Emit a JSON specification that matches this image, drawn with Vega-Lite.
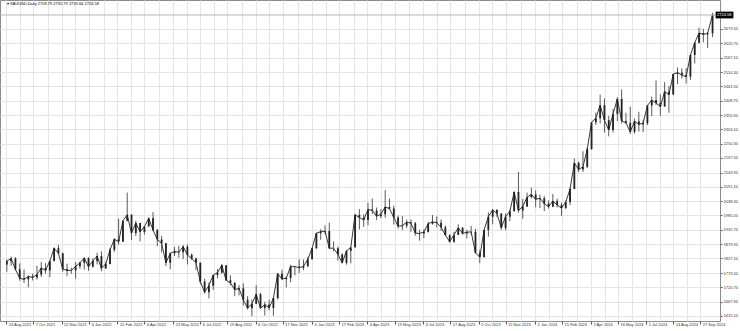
{
  "$schema": "https://vega.github.io/schema/vega-lite/v6.json",
  "width": 720,
  "height": 321,
  "autosize": {"type": "none"},
  "padding": {"left": 0, "top": 0, "right": 20, "bottom": 10},
  "background": "white",
  "config": {"view": {"stroke": "#8a8a8a", "strokeWidth": 1}, "font": "Liberation Sans"},
  "datasets": {
    "last": [{"p": 2724.58, "hi": 2737, "lo": 2712, "t": "2724.58", "head": "▾ XAUUSD,Daily  2709.79 2732.79 2719.64 2724.58"}],
    "candles": [
      {"d":"2021-08-25","o":1805,"h":1823,"l":1778,"c":1817},
      {"d":"2021-09-01","o":1817,"h":1834,"l":1800,"c":1827},
      {"d":"2021-09-08","o":1827,"h":1832,"l":1782,"c":1787},
      {"d":"2021-09-15","o":1787,"h":1809,"l":1745,"c":1754},
      {"d":"2021-09-22","o":1754,"h":1787,"l":1737,"c":1750},
      {"d":"2021-09-29","o":1750,"h":1764,"l":1721,"c":1761},
      {"d":"2021-10-06","o":1761,"h":1771,"l":1746,"c":1757},
      {"d":"2021-10-13","o":1757,"h":1800,"l":1749,"c":1768},
      {"d":"2021-10-20","o":1768,"h":1814,"l":1759,"c":1792},
      {"d":"2021-10-27","o":1792,"h":1810,"l":1771,"c":1783},
      {"d":"2021-11-03","o":1783,"h":1818,"l":1758,"c":1818},
      {"d":"2021-11-10","o":1818,"h":1868,"l":1816,"c":1865},
      {"d":"2021-11-17","o":1865,"h":1877,"l":1845,"c":1846},
      {"d":"2021-11-24","o":1846,"h":1849,"l":1778,"c":1788},
      {"d":"2021-12-01","o":1788,"h":1808,"l":1762,"c":1783},
      {"d":"2021-12-08","o":1783,"h":1793,"l":1771,"c":1783},
      {"d":"2021-12-15","o":1783,"h":1814,"l":1753,"c":1798},
      {"d":"2021-12-22","o":1798,"h":1815,"l":1789,"c":1811},
      {"d":"2021-12-29","o":1811,"h":1831,"l":1786,"c":1829},
      {"d":"2022-01-05","o":1829,"h":1831,"l":1782,"c":1797},
      {"d":"2022-01-12","o":1797,"h":1828,"l":1793,"c":1818},
      {"d":"2022-01-19","o":1818,"h":1848,"l":1805,"c":1836},
      {"d":"2022-01-26","o":1836,"h":1853,"l":1780,"c":1791},
      {"d":"2022-02-02","o":1791,"h":1815,"l":1788,"c":1807},
      {"d":"2022-02-09","o":1807,"h":1866,"l":1805,"c":1859},
      {"d":"2022-02-16","o":1859,"h":1902,"l":1851,"c":1898},
      {"d":"2022-02-23","o":1898,"h":1974,"l":1878,"c":1889},
      {"d":"2022-03-02","o":1889,"h":1966,"l":1889,"c":1966},
      {"d":"2022-03-09","o":1966,"h":2070,"l":1964,"c":1988},
      {"d":"2022-03-16","o":1988,"h":1990,"l":1895,"c":1921},
      {"d":"2022-03-23","o":1921,"h":1966,"l":1910,"c":1958},
      {"d":"2022-03-30","o":1958,"h":1958,"l":1890,"c":1925},
      {"d":"2022-04-06","o":1925,"h":1945,"l":1915,"c":1945},
      {"d":"2022-04-13","o":1945,"h":1979,"l":1945,"c":1975},
      {"d":"2022-04-20","o":1975,"h":1998,"l":1927,"c":1932},
      {"d":"2022-04-27","o":1932,"h":1936,"l":1872,"c":1897},
      {"d":"2022-05-04","o":1897,"h":1910,"l":1850,"c":1883},
      {"d":"2022-05-11","o":1883,"h":1885,"l":1799,"c":1811},
      {"d":"2022-05-18","o":1811,"h":1849,"l":1787,"c":1846},
      {"d":"2022-05-25","o":1846,"h":1870,"l":1836,"c":1853},
      {"d":"2022-06-01","o":1853,"h":1874,"l":1830,"c":1850},
      {"d":"2022-06-08","o":1850,"h":1876,"l":1825,"c":1871},
      {"d":"2022-06-15","o":1871,"h":1879,"l":1805,"c":1840},
      {"d":"2022-06-22","o":1840,"h":1846,"l":1821,"c":1827},
      {"d":"2022-06-29","o":1827,"h":1830,"l":1785,"c":1811},
      {"d":"2022-07-06","o":1811,"h":1813,"l":1732,"c":1742},
      {"d":"2022-07-13","o":1742,"h":1752,"l":1697,"c":1703},
      {"d":"2022-07-20","o":1703,"h":1739,"l":1680,"c":1727},
      {"d":"2022-07-27","o":1727,"h":1767,"l":1711,"c":1766},
      {"d":"2022-08-03","o":1766,"h":1788,"l":1754,"c":1775},
      {"d":"2022-08-10","o":1775,"h":1807,"l":1771,"c":1802},
      {"d":"2022-08-17","o":1802,"h":1802,"l":1745,"c":1747},
      {"d":"2022-08-24","o":1747,"h":1765,"l":1728,"c":1737},
      {"d":"2022-08-31","o":1737,"h":1740,"l":1688,"c":1712},
      {"d":"2022-09-07","o":1712,"h":1729,"l":1691,"c":1717},
      {"d":"2022-09-14","o":1717,"h":1735,"l":1654,"c":1675},
      {"d":"2022-09-21","o":1675,"h":1688,"l":1639,"c":1644},
      {"d":"2022-09-28","o":1644,"h":1676,"l":1614,"c":1660},
      {"d":"2022-10-05","o":1660,"h":1729,"l":1659,"c":1695},
      {"d":"2022-10-12","o":1695,"h":1700,"l":1642,"c":1644},
      {"d":"2022-10-19","o":1644,"h":1668,"l":1617,"c":1657},
      {"d":"2022-10-26","o":1657,"h":1675,"l":1637,"c":1645},
      {"d":"2022-11-02","o":1645,"h":1681,"l":1616,"c":1681},
      {"d":"2022-11-09","o":1681,"h":1773,"l":1676,"c":1771},
      {"d":"2022-11-16","o":1771,"h":1786,"l":1747,"c":1751},
      {"d":"2022-11-23","o":1751,"h":1760,"l":1721,"c":1755},
      {"d":"2022-11-30","o":1755,"h":1804,"l":1739,"c":1797},
      {"d":"2022-12-07","o":1797,"h":1800,"l":1765,"c":1797},
      {"d":"2022-12-14","o":1797,"h":1824,"l":1773,"c":1793},
      {"d":"2022-12-21","o":1793,"h":1823,"l":1784,"c":1798},
      {"d":"2022-12-28","o":1798,"h":1833,"l":1797,"c":1824},
      {"d":"2023-01-04","o":1824,"h":1865,"l":1824,"c":1865},
      {"d":"2023-01-11","o":1865,"h":1922,"l":1862,"c":1920},
      {"d":"2023-01-18","o":1920,"h":1935,"l":1896,"c":1926},
      {"d":"2023-01-25","o":1926,"h":1949,"l":1916,"c":1928},
      {"d":"2023-02-01","o":1928,"h":1959,"l":1861,"c":1865},
      {"d":"2023-02-08","o":1865,"h":1890,"l":1853,"c":1865},
      {"d":"2023-02-15","o":1865,"h":1871,"l":1819,"c":1842},
      {"d":"2023-02-22","o":1842,"h":1846,"l":1809,"c":1811},
      {"d":"2023-03-01","o":1811,"h":1858,"l":1804,"c":1855},
      {"d":"2023-03-08","o":1855,"h":1868,"l":1809,"c":1868},
      {"d":"2023-03-15","o":1868,"h":1990,"l":1867,"c":1988},
      {"d":"2023-03-22","o":1988,"h":2009,"l":1934,"c":1978},
      {"d":"2023-03-29","o":1978,"h":1990,"l":1944,"c":1969},
      {"d":"2023-04-05","o":1969,"h":2032,"l":1949,"c":2008},
      {"d":"2023-04-12","o":2008,"h":2048,"l":1991,"c":2004},
      {"d":"2023-04-19","o":2004,"h":2015,"l":1969,"c":1983},
      {"d":"2023-04-26","o":1983,"h":2009,"l":1975,"c":1990},
      {"d":"2023-05-03","o":1990,"h":2079,"l":1977,"c":2017},
      {"d":"2023-05-10","o":2017,"h":2048,"l":2008,"c":2011},
      {"d":"2023-05-17","o":2011,"h":2022,"l":1952,"c":1978},
      {"d":"2023-05-24","o":1978,"h":1985,"l":1937,"c":1946},
      {"d":"2023-05-31","o":1946,"h":1983,"l":1932,"c":1948},
      {"d":"2023-06-07","o":1948,"h":1970,"l":1939,"c":1961},
      {"d":"2023-06-14","o":1961,"h":1971,"l":1925,"c":1957},
      {"d":"2023-06-21","o":1957,"h":1962,"l":1911,"c":1921},
      {"d":"2023-06-28","o":1921,"h":1933,"l":1893,"c":1919},
      {"d":"2023-07-05","o":1919,"h":1935,"l":1902,"c":1925},
      {"d":"2023-07-12","o":1925,"h":1963,"l":1923,"c":1955},
      {"d":"2023-07-19","o":1955,"h":1987,"l":1952,"c":1962},
      {"d":"2023-07-26","o":1962,"h":1982,"l":1942,"c":1959},
      {"d":"2023-08-02","o":1959,"h":1971,"l":1929,"c":1942},
      {"d":"2023-08-09","o":1942,"h":1948,"l":1912,"c":1913},
      {"d":"2023-08-16","o":1913,"h":1916,"l":1885,"c":1889},
      {"d":"2023-08-23","o":1889,"h":1925,"l":1885,"c":1914},
      {"d":"2023-08-30","o":1914,"h":1953,"l":1914,"c":1940},
      {"d":"2023-09-06","o":1940,"h":1943,"l":1915,"c":1919},
      {"d":"2023-09-13","o":1919,"h":1933,"l":1901,"c":1924},
      {"d":"2023-09-20","o":1924,"h":1947,"l":1913,"c":1925},
      {"d":"2023-09-27","o":1925,"h":1936,"l":1846,"c":1848},
      {"d":"2023-10-04","o":1848,"h":1858,"l":1810,"c":1832},
      {"d":"2023-10-11","o":1832,"h":1933,"l":1831,"c":1932},
      {"d":"2023-10-18","o":1932,"h":1997,"l":1908,"c":1981},
      {"d":"2023-10-25","o":1981,"h":2009,"l":1953,"c":2006},
      {"d":"2023-11-01","o":2006,"h":2009,"l":1980,"c":1993},
      {"d":"2023-11-08","o":1993,"h":1993,"l":1932,"c":1940},
      {"d":"2023-11-15","o":1940,"h":1993,"l":1931,"c":1981},
      {"d":"2023-11-22","o":1981,"h":2007,"l":1965,"c":2001},
      {"d":"2023-11-29","o":2001,"h":2075,"l":2001,"c":2072},
      {"d":"2023-12-06","o":2072,"h":2146,"l":1996,"c":2004},
      {"d":"2023-12-13","o":2004,"h":2047,"l":1973,"c":2019},
      {"d":"2023-12-20","o":2019,"h":2070,"l":2017,"c":2053},
      {"d":"2023-12-27","o":2053,"h":2088,"l":2049,"c":2063},
      {"d":"2024-01-03","o":2063,"h":2078,"l":2016,"c":2045},
      {"d":"2024-01-10","o":2045,"h":2062,"l":2013,"c":2049},
      {"d":"2024-01-17","o":2049,"h":2057,"l":2002,"c":2029},
      {"d":"2024-01-24","o":2029,"h":2041,"l":2011,"c":2018},
      {"d":"2024-01-31","o":2018,"h":2065,"l":2016,"c":2039},
      {"d":"2024-02-07","o":2039,"h":2048,"l":2015,"c":2024},
      {"d":"2024-02-14","o":2024,"h":2033,"l":1984,"c":2013},
      {"d":"2024-02-21","o":2013,"h":2041,"l":2009,"c":2035},
      {"d":"2024-02-28","o":2035,"h":2088,"l":2024,"c":2083},
      {"d":"2024-03-06","o":2083,"h":2195,"l":2083,"c":2179},
      {"d":"2024-03-13","o":2179,"h":2185,"l":2145,"c":2155},
      {"d":"2024-03-20","o":2155,"h":2222,"l":2146,"c":2165},
      {"d":"2024-03-27","o":2165,"h":2236,"l":2160,"c":2230},
      {"d":"2024-04-03","o":2230,"h":2330,"l":2228,"c":2329},
      {"d":"2024-04-10","o":2329,"h":2365,"l":2319,"c":2344},
      {"d":"2024-04-17","o":2344,"h":2431,"l":2325,"c":2392},
      {"d":"2024-04-24","o":2392,"h":2417,"l":2291,"c":2337},
      {"d":"2024-05-01","o":2337,"h":2353,"l":2277,"c":2301},
      {"d":"2024-05-08","o":2301,"h":2378,"l":2291,"c":2360},
      {"d":"2024-05-15","o":2360,"h":2422,"l":2334,"c":2415},
      {"d":"2024-05-22","o":2415,"h":2450,"l":2325,"c":2334},
      {"d":"2024-05-29","o":2334,"h":2364,"l":2324,"c":2327},
      {"d":"2024-06-05","o":2327,"h":2387,"l":2286,"c":2294},
      {"d":"2024-06-12","o":2294,"h":2342,"l":2287,"c":2333},
      {"d":"2024-06-19","o":2333,"h":2368,"l":2295,"c":2321},
      {"d":"2024-06-26","o":2321,"h":2338,"l":2293,"c":2326},
      {"d":"2024-07-03","o":2326,"h":2392,"l":2319,"c":2391},
      {"d":"2024-07-10","o":2391,"h":2424,"l":2352,"c":2411},
      {"d":"2024-07-17","o":2411,"h":2483,"l":2393,"c":2400},
      {"d":"2024-07-24","o":2400,"h":2432,"l":2353,"c":2387},
      {"d":"2024-07-31","o":2387,"h":2477,"l":2387,"c":2442},
      {"d":"2024-08-07","o":2442,"h":2462,"l":2364,"c":2431},
      {"d":"2024-08-14","o":2431,"h":2508,"l":2432,"c":2507},
      {"d":"2024-08-21","o":2507,"h":2531,"l":2470,"c":2512},
      {"d":"2024-08-28","o":2512,"h":2528,"l":2490,"c":2503},
      {"d":"2024-09-04","o":2503,"h":2529,"l":2472,"c":2497},
      {"d":"2024-09-11","o":2497,"h":2578,"l":2485,"c":2577},
      {"d":"2024-09-18","o":2577,"h":2626,"l":2546,"c":2622},
      {"d":"2024-09-25","o":2622,"h":2678,"l":2620,"c":2658},
      {"d":"2024-10-02","o":2658,"h":2673,"l":2624,"c":2653},
      {"d":"2024-10-09","o":2653,"h":2662,"l":2603,"c":2657},
      {"d":"2024-10-17","o":2657,"h":2733,"l":2643,"c":2724.58}
    ]
  },
  "layer": [
    {
      "data": {"name": "candles"},
      "mark": {"type": "rule", "color": "#5a5a5a", "strokeWidth": 1},
      "encoding": {
        "x": {
          "field": "d", "type": "temporal", "title": null,
          "scale": {"type": "utc", "domain": [{"year": 2021, "month": 8, "date": 22, "utc": true}, {"year": 2024, "month": 10, "date": 21, "utc": true}]},
          "axis": {
            "values": [
              {"year":2021,"month":8,"date":24,"utc":true},{"year":2021,"month":9,"date":15,"hours":12,"utc":true},
              {"year":2021,"month":10,"date":7,"utc":true},{"year":2021,"month":10,"date":30,"hours":12,"utc":true},
              {"year":2021,"month":11,"date":22,"utc":true},{"year":2021,"month":12,"date":14,"hours":12,"utc":true},
              {"year":2022,"month":1,"date":6,"utc":true},{"year":2022,"month":1,"date":29,"hours":12,"utc":true},
              {"year":2022,"month":2,"date":21,"utc":true},{"year":2022,"month":3,"date":15,"hours":12,"utc":true},
              {"year":2022,"month":4,"date":6,"utc":true},{"year":2022,"month":4,"date":29,"hours":12,"utc":true},
              {"year":2022,"month":5,"date":23,"utc":true},{"year":2022,"month":6,"date":14,"hours":12,"utc":true},
              {"year":2022,"month":7,"date":6,"utc":true},{"year":2022,"month":7,"date":28,"hours":12,"utc":true},
              {"year":2022,"month":8,"date":19,"utc":true},{"year":2022,"month":9,"date":11,"hours":12,"utc":true},
              {"year":2022,"month":10,"date":4,"utc":true},{"year":2022,"month":10,"date":26,"hours":12,"utc":true},
              {"year":2022,"month":11,"date":17,"utc":true},{"year":2022,"month":12,"date":11,"hours":12,"utc":true},
              {"year":2023,"month":1,"date":4,"utc":true},{"year":2023,"month":1,"date":26,"hours":12,"utc":true},
              {"year":2023,"month":2,"date":17,"utc":true},{"year":2023,"month":3,"date":12,"hours":12,"utc":true},
              {"year":2023,"month":4,"date":4,"utc":true},{"year":2023,"month":4,"date":26,"hours":12,"utc":true},
              {"year":2023,"month":5,"date":19,"utc":true},{"year":2023,"month":6,"date":11,"hours":12,"utc":true},
              {"year":2023,"month":7,"date":4,"utc":true},{"year":2023,"month":7,"date":26,"hours":12,"utc":true},
              {"year":2023,"month":8,"date":17,"utc":true},{"year":2023,"month":9,"date":9,"hours":12,"utc":true},
              {"year":2023,"month":10,"date":2,"utc":true},{"year":2023,"month":10,"date":24,"hours":12,"utc":true},
              {"year":2023,"month":11,"date":15,"utc":true},{"year":2023,"month":12,"date":9,"hours":12,"utc":true},
              {"year":2024,"month":1,"date":2,"utc":true},{"year":2024,"month":1,"date":24,"hours":12,"utc":true},
              {"year":2024,"month":2,"date":15,"utc":true},{"year":2024,"month":3,"date":9,"hours":12,"utc":true},
              {"year":2024,"month":4,"date":2,"utc":true},{"year":2024,"month":4,"date":24,"hours":12,"utc":true},
              {"year":2024,"month":5,"date":16,"utc":true},{"year":2024,"month":6,"date":8,"hours":12,"utc":true},
              {"year":2024,"month":7,"date":1,"utc":true},{"year":2024,"month":7,"date":23,"hours":12,"utc":true},
              {"year":2024,"month":8,"date":14,"utc":true},{"year":2024,"month":9,"date":5,"hours":12,"utc":true},
              {"year":2024,"month":9,"date":27,"utc":true}
            ],
            "tickCount": 200,
            "labelExpr": "utchours(datum.value) == 12 ? '' : utcFormat(datum.value, '%-d %b %Y')",
            "grid": true,
            "gridColor": "#e4e4e4",
            "gridWidth": 1,
            "domain": false,
            "tickSize": 3,
            "tickColor": "#555555",
            "tickOpacity": {"condition": {"test": "utchours(datum.value) == 12", "value": 0}, "value": 1},
            "labelAlign": "left",
            "labelBaseline": "top",
            "labelPadding": -2,
            "labelOffset": 2,
            "labelFontSize": 4,
            "labelColor": "#333333",
            "labelFlush": false,
            "labelOverlap": false
          }
        },
        "y": {
          "field": "l", "type": "quantitative", "title": null,
          "scale": {"domain": [1596.6, 2779.8], "nice": false, "zero": false},
          "axis": {
            "orient": "right",
            "values": [1615.1, 1667.9, 1720.7, 1773.5, 1827.1, 1879.9, 1932.7, 1985.5, 2038.3, 2091.1, 2143.9, 2197.5, 2250.3, 2303.1, 2355.9, 2408.7, 2461.5, 2514.3, 2567.1, 2620.7, 2673.5],
            "tickCount": 200,
            "format": ".2f",
            "grid": true,
            "gridColor": "#e4e4e4",
            "domain": false,
            "tickSize": 2,
            "tickColor": "#555555",
            "labelPadding": 1,
            "labelFontSize": 4,
            "labelColor": "#333333",
            "labelOverlap": false
          }
        },
        "y2": {"field": "h"}
      }
    },
    {
      "data": {"name": "candles"},
      "mark": {"type": "line", "color": "#3a3a3a", "strokeWidth": 1, "interpolate": "linear"},
      "encoding": {
        "x": {"field": "d", "type": "temporal"},
        "y": {"field": "c", "type": "quantitative"}
      }
    },
    {
      "data": {"name": "candles"},
      "mark": {"type": "bar", "color": "#222222", "size": 1.8},
      "encoding": {
        "x": {"field": "d", "type": "temporal"},
        "y": {"field": "o", "type": "quantitative"},
        "y2": {"field": "c"}
      }
    },
    {
      "data": {"name": "last"},
      "mark": {"type": "rule", "color": "#b4b4b4", "strokeWidth": 1},
      "encoding": {"y": {"field": "p", "type": "quantitative"}}
    },
    {
      "data": {"name": "last"},
      "mark": {"type": "rect", "color": "#000000"},
      "encoding": {
        "x": {"datum": {"year": 2024, "month": 10, "date": 22, "utc": true}, "type": "temporal"},
        "x2": {"datum": {"year": 2024, "month": 11, "date": 20, "utc": true}},
        "y": {"field": "hi", "type": "quantitative"},
        "y2": {"field": "lo"}
      }
    },
    {
      "data": {"name": "last"},
      "mark": {"type": "text", "color": "#ffffff", "fontSize": 4, "align": "center", "baseline": "middle"},
      "encoding": {
        "x": {"datum": {"year": 2024, "month": 11, "date": 5, "utc": true}, "type": "temporal"},
        "y": {"field": "p", "type": "quantitative"},
        "text": {"field": "t"}
      }
    },
    {
      "data": {"name": "last"},
      "mark": {"type": "text", "color": "#000000", "fontSize": 4, "align": "left", "baseline": "middle", "dy": -11},
      "encoding": {
        "x": {"datum": {"year": 2021, "month": 8, "date": 25, "utc": true}, "type": "temporal"},
        "y": {"field": "p", "type": "quantitative"},
        "text": {"field": "head"}
      }
    }
  ]
}
